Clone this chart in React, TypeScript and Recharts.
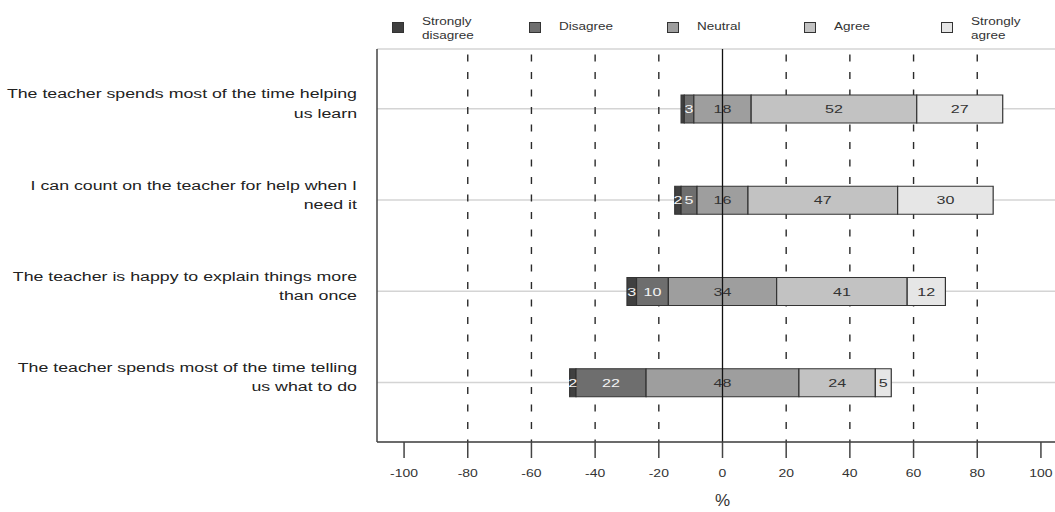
import React from 'react';
import {
  BarChart,
  Bar,
  XAxis,
  YAxis,
  CartesianGrid,
  ReferenceLine,
  LabelList,
  Legend,
} from 'recharts';

const categories = [
  'The teacher spends most of the time helping\nus learn',
  'I can count on the teacher for help when I\nneed it',
  'The teacher is happy to explain things more\nthan once',
  'The teacher spends most of the time telling\nus what to do',
];
const stronglyDisagree = [1, 2, 3, 2];
const disagree = [3, 5, 10, 22];
const neutral = [18, 16, 34, 48];
const agree = [52, 47, 41, 24];
const stronglyAgree = [27, 30, 12, 5];

const seriesKeys = ['sd', 'd', 'n', 'a', 'sa'];
const seriesNames = ['Strongly\ndisagree', 'Disagree', 'Neutral', 'Agree', 'Strongly\nagree'];
const seriesColors = ['#404040', '#6e6e6e', '#9e9e9e', '#c2c2c2', '#e6e6e6'];
const labelColors = ['#f4f4f4', '#f4f4f4', '#333333', '#333333', '#333333'];

const xTicks = [-100, -80, -60, -40, -20, 0, 20, 40, 60, 80, 100];
const gridValues = [-80, -60, -40, -20, 20, 40, 60, 80];
const xDomain = [-108.5, 108.5];

const data = categories.map((name, i) => ({
  name,
  offset: -(stronglyDisagree[i] + disagree[i] + neutral[i] / 2),
  sd: stronglyDisagree[i],
  d: disagree[i],
  n: neutral[i],
  a: agree[i],
  sa: stronglyAgree[i],
}));

const FONT = '"Liberation Sans", Arial, sans-serif';

const CatTick = (props: any) => {
  const { x, y, payload } = props;
  const lines = String(payload.value).split('\n');
  return (
    <g transform={`translate(${x - 12},${y}) scale(1.42,1)`}>
      <text textAnchor="end" fontSize={12.5} fill="#222" fontFamily={FONT}>
        <tspan x={0} y={-10.3}>{lines[0]}</tspan>
        <tspan x={0} y={9}>{lines[1]}</tspan>
      </text>
    </g>
  );
};

const XTick = (props: any) => {
  const { x, y, payload } = props;
  return (
    <g transform={`translate(${x},${y}) scale(1.4,1)`}>
      <text textAnchor="middle" fontSize={10} fill="#333" fontFamily={FONT} y={9}>
        {payload.value}
      </text>
    </g>
  );
};

const makeLabel = (color: string) => (props: any) => {
  const { x, y, width, height, value } = props;
  if (value < 2) return null;
  return (
    <g transform={`translate(${x + width / 2},${y + height / 2}) scale(1.4,1)`}>
      <text textAnchor="middle" dominantBaseline="central" fontSize={11.5} fill={color} fontFamily={FONT}>
        {value}
      </text>
    </g>
  );
};

const LegendBox = () => (
  <div style={{ position: 'relative', height: 49, width: 1090, fontFamily: FONT }}>
    {seriesNames.map((nm, i) => {
      const left = 392 + i * 137.3;
      const lines = nm.split('\n');
      return (
        <div key={nm} style={{ position: 'absolute', left, top: 0, height: 49 }}>
          <div
            style={{
              position: 'absolute',
              left: 0,
              top: 22,
              width: 10,
              height: 9,
              background: seriesColors[i],
              border: '1px solid #333',
            }}
          />
          <div
            style={{
              position: 'absolute',
              left: 30,
              top: lines.length > 1 ? 15 : 20,
              fontSize: 10,
              lineHeight: '14px',
              color: '#333',
              whiteSpace: 'nowrap',
              transform: 'scaleX(1.35)',
              transformOrigin: 'left top',
            }}
          >
            {lines.map((l) => (
              <div key={l}>{l}</div>
            ))}
          </div>
        </div>
      );
    })}
  </div>
);

export default function App() {
  return (
    <div style={{ position: 'absolute', left: 0, top: 0, width: 1055, height: 512, overflow: 'hidden', background: '#fff' }}>
      <BarChart
        width={1090}
        height={512}
        data={data}
        layout="vertical"
        margin={{ top: 0, right: 22, bottom: 0, left: 0 }}
        barSize={28}
      >
        <Legend verticalAlign="top" align="left" content={() => <LegendBox />} wrapperStyle={{ left: 0, top: 0 }} />
        <CartesianGrid horizontal={true} vertical={false} stroke="#d4d4d4" strokeWidth={1.5} />
        <CartesianGrid
          horizontal={false}
          vertical={true}
          verticalValues={gridValues}
          stroke="#2a2a2a"
          strokeWidth={1.4}
          strokeDasharray="7 10.5"
          strokeDashoffset={12}
        />
        <XAxis
          type="number"
          domain={xDomain}
          ticks={xTicks}
          allowDataOverflow
          tickSize={16}
          tickMargin={10}
          tick={<XTick />}
          stroke="#444"
          strokeWidth={1.5}
          height={70}
          label={{ value: '%', position: 'insideBottom', offset: 6, fontSize: 17, fill: '#333', fontFamily: FONT }}
        />
        <XAxis
          xAxisId="top"
          orientation="top"
          type="number"
          domain={xDomain}
          allowDataOverflow
          height={0}
          tick={false}
          tickLine={false}
          stroke="#444"
          strokeWidth={1.5}
        />
        <YAxis
          type="category"
          dataKey="name"
          width={377}
          padding={{ top: 14, bottom: 14 }}
          tickLine={false}
          tick={<CatTick />}
          stroke="#444"
          strokeWidth={1.5}
        />
        <Bar dataKey="offset" stackId="s" fill="transparent" stroke="none" legendType="none" isAnimationActive={false} />
        {seriesKeys.map((k, i) => (
          <Bar
            key={k}
            dataKey={k}
            name={seriesNames[i]}
            stackId="s"
            fill={seriesColors[i]}
            stroke="#333"
            strokeWidth={1.2}
            isAnimationActive={false}
          >
            <LabelList dataKey={k} content={makeLabel(labelColors[i])} />
          </Bar>
        ))}
        <ReferenceLine x={0} stroke="#111" strokeWidth={1.3} />
      </BarChart>
    </div>
  );
}
